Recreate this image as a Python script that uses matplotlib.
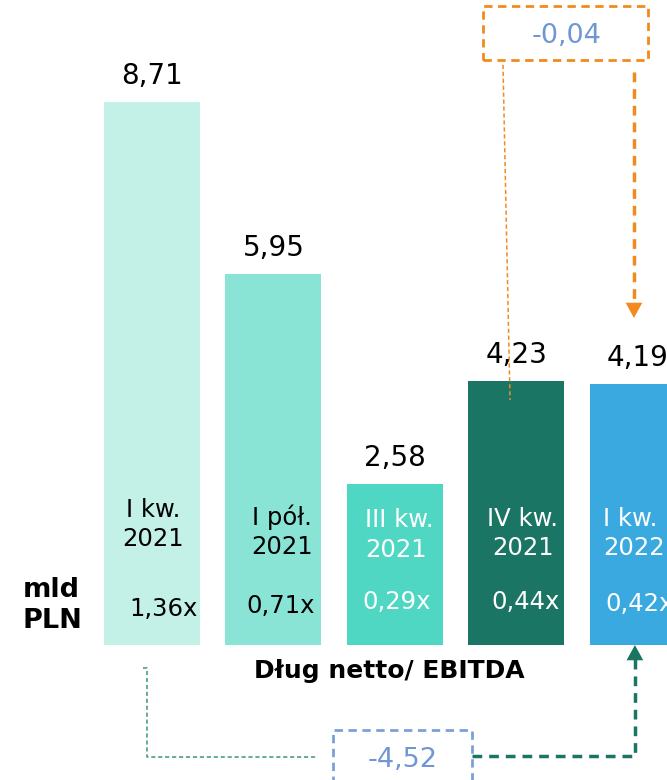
import matplotlib
matplotlib.use("Agg")
import matplotlib.pyplot as plt
from matplotlib.patches import Rectangle

# dane
periods = ["I kw.\n2021", "I pół.\n2021", "III kw.\n2021", "IV kw.\n2021", "I kw.\n2022"]
debt = [8.71, 5.95, 2.58, 4.23, 4.19]
ratios = ["1,36x", "0,71x", "0,29x", "0,44x", "0,42x"]
change_q = "-0,04"
change_y = "-4,52"

colors = ["#c3f0e7", "#89e4d6", "#4fd7c3", "#1b7565", "#39a9e0"]
txt_colors = ["black", "black", "white", "white", "white"]
orange = "#f28a1e"
green = "#1b7565"
blue = "#6f97d4"

# pozycje tekstu w slupkach (przesuniecie x, linia 1, linia 2, x wskaznika, y wskaznika)
lbl_style = [
    (0.008, "center", 2.059, 1.594, 0.091, "center", 0.472),
    (1.070, "center", 1.931, 1.466, 1.062, "center", 0.520),
    (1.753, "left", 1.899, 1.418, 2.016, "center", 0.584),
    (3.053, "center", 1.915, 1.450, 3.078, "center", 0.584),
    (3.712, "left", 1.915, 1.450, 3.728, "left", 0.552),
]

plt.rcParams["font.family"] = ["DejaVu Sans"]
plt.rcParams["lines.scale_dashes"] = False

fig = plt.figure(figsize=(6.67, 7.8), dpi=100)
ax = fig.add_axes([0, 0, 1, 1])
ax.set_xlim(-1.251, 4.239)
ax.set_ylim(-2.165, 10.345)
ax.axis("off")

x = list(range(len(debt)))
ax.bar(x, debt, width=0.79, color=colors)

for i, v in enumerate(debt):
    ax.text(i, v + 0.29, f"{v:.2f}".replace(".", ","), ha="center", va="baseline",
            fontsize=20, color="black")

for i, st in enumerate(lbl_style):
    lx, lha, y1, y2, rx, rha, ry = st
    l1, l2 = periods[i].split("\n")
    ax.text(lx, y1, l1, ha=lha, va="baseline", fontsize=17.5, color=txt_colors[i])
    ax.text(lx, y2, l2, ha=lha, va="baseline", fontsize=17.5, color=txt_colors[i])
    ax.text(rx, ry, ratios[i], ha=rha, va="baseline", fontsize=17.5, color=txt_colors[i])

ax.text(-1.062, 0.770, "mld", ha="left", va="baseline", fontsize=19.5, fontweight="bold")
ax.text(-1.062, 0.273, "PLN", ha="left", va="baseline", fontsize=19.5, fontweight="bold")
ax.text(1.951, -0.529, "Dług netto/ EBITDA", ha="center", va="baseline",
        fontsize=18, fontweight="bold")

# zmiana kwartalna (pomaranczowa)
ax.add_patch(Rectangle((2.724, 9.383), 4.082 - 2.724, 10.249 - 9.383, fill=False,
                       edgecolor=orange, lw=2, linestyle=(0, (6, 4))))
ax.text(3.416, 9.663, change_q, ha="center", va="baseline", fontsize=19.5, color=blue)
ax.plot([2.889, 2.947], [9.305, 3.929], color=orange, lw=1.1, linestyle=(0, (3, 2)))
ax.plot([3.967, 3.967], [9.19, 5.45], color=orange, lw=2.5, linestyle=(0, (7, 5)))
ax.annotate("", xy=(3.967, 5.245), xytext=(3.967, 5.50),
            arrowprops=dict(arrowstyle="-|>,head_length=1.1,head_width=0.6",
                            mutation_scale=10, color=orange, lw=0,
                            shrinkA=0, shrinkB=0))

# zmiana roczna (zielona)
ax.add_patch(Rectangle((1.490, -2.6), 2.634 - 1.490, -1.363 + 2.6, fill=False,
                       edgecolor="#7c9fd8", lw=2, linestyle=(0, (6, 4))))
ax.text(2.066, -1.949, change_y, ha="center", va="baseline", fontsize=19.5, color=blue)
ax.plot([-0.074, -0.041, -0.041, 1.366], [-0.369, -0.369, -1.796, -1.796],
        color="#4e9c8c", lw=1.2, linestyle=(0, (3, 2)))
ax.plot([2.634, 3.975, 3.975], [-1.780, -1.780, -0.20], color=green, lw=2.5,
        linestyle=(0, (7, 5)))
ax.annotate("", xy=(3.975, 0.0), xytext=(3.975, -0.26),
            arrowprops=dict(arrowstyle="-|>,head_length=1.1,head_width=0.6",
                            mutation_scale=10, color=green, lw=0,
                            shrinkA=0, shrinkB=0))

fig.savefig("out.png", dpi=100)
